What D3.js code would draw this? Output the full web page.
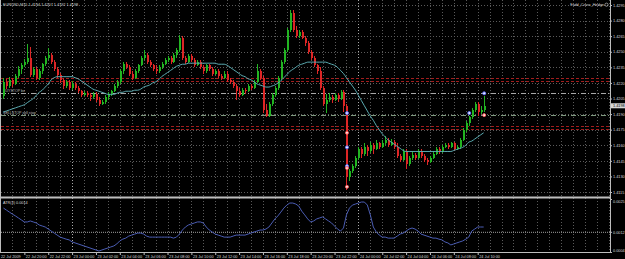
<!DOCTYPE html>
<html>
<head>
<meta charset="utf-8">
<script src="https://cdn.jsdelivr.net/npm/d3@7"></script>
<style>
  html, body { margin: 0; padding: 0; background: #000; overflow: hidden; }
  #chart { width: 625px; height: 259px; }
</style>
</head>
<body>
<div id="chart"></div>
<script>
// EURUSD M15 bars
const symbolTitle = "EURUSD,M15  1.4194 1.4207 1.4192 1.4198";
const expertName = "Fxdd_Cross_Hedge";
const atrTitle = "ATR(3) 0.0014";
const firstBar = new Date(2009, 6, 22, 18, 15);

const open = [
  1.4207,1.4221,1.4217,1.4223,1.4219,1.4227,1.4233,1.4237,1.4240,1.4244,
  1.4228,1.4233,1.4225,1.4231,1.4238,1.4244,1.4247,1.4240,1.4233,1.4228,
  1.4223,1.4217,1.4221,1.4215,1.4219,1.4215,1.4212,1.4208,1.4210,1.4208,
  1.4206,1.4209,1.4204,1.4200,1.4202,1.4206,1.4209,1.4212,1.4217,1.4221,
  1.4231,1.4238,1.4235,1.4229,1.4225,1.4231,1.4237,1.4244,1.4247,1.4240,
  1.4237,1.4233,1.4231,1.4235,1.4238,1.4242,1.4244,1.4240,1.4247,1.4252,
  1.4263,1.4244,1.4240,1.4246,1.4242,1.4237,1.4240,1.4235,1.4231,1.4237,
  1.4233,1.4229,1.4231,1.4227,1.4225,1.4229,1.4223,1.4221,1.4217,1.4212,
  1.4208,1.4213,1.4212,1.4217,1.4215,1.4221,1.4231,1.4225,1.4194,1.4188,
  1.4200,1.4208,1.4215,1.4225,1.4240,1.4252,1.4271,1.4287,1.4271,1.4265,
  1.4269,1.4263,1.4258,1.4250,1.4244,1.4237,1.4231,1.4215,1.4200,1.4204,
  1.4206,1.4204,1.4208,1.4205,1.4211,1.4198,1.4129,1.4135,1.4140,1.4148,
  1.4156,1.4152,1.4158,1.4154,1.4160,1.4156,1.4162,1.4158,1.4162,1.4165,
  1.4160,1.4163,1.4158,1.4150,1.4146,1.4154,1.4142,1.4148,1.4151,1.4148,
  1.4154,1.4150,1.4146,1.4144,1.4148,1.4152,1.4156,1.4154,1.4158,1.4160,
  1.4158,1.4162,1.4156,1.4158,1.4165,1.4175,1.4181,1.4187,1.4194,1.4200,
  1.4192,1.4194
];
const high = [
  1.4225,1.4224,1.4226,1.4225,1.4229,1.4236,1.4239,1.4243,1.4257,1.4255,
  1.4235,1.4235,1.4233,1.4239,1.4246,1.4254,1.4249,1.4242,1.4235,1.4230,
  1.4225,1.4223,1.4223,1.4222,1.4221,1.4217,1.4213,1.4212,1.4212,1.4210,
  1.4211,1.4211,1.4206,1.4204,1.4208,1.4211,1.4213,1.4219,1.4223,1.4233,
  1.4240,1.4240,1.4237,1.4231,1.4233,1.4238,1.4246,1.4252,1.4249,1.4242,
  1.4238,1.4237,1.4237,1.4240,1.4244,1.4246,1.4246,1.4249,1.4254,1.4266,
  1.4265,1.4246,1.4248,1.4248,1.4244,1.4242,1.4242,1.4237,1.4238,1.4238,
  1.4235,1.4233,1.4233,1.4229,1.4231,1.4231,1.4225,1.4223,1.4219,1.4215,
  1.4215,1.4215,1.4219,1.4219,1.4223,1.4238,1.4233,1.4227,1.4200,1.4202,
  1.4210,1.4217,1.4227,1.4242,1.4254,1.4273,1.4290,1.4290,1.4275,1.4271,
  1.4271,1.4265,1.4260,1.4252,1.4246,1.4238,1.4235,1.4217,1.4209,1.4210,
  1.4208,1.4210,1.4210,1.4213,1.4213,1.4200,1.4137,1.4142,1.4150,1.4158,
  1.4158,1.4162,1.4160,1.4163,1.4162,1.4165,1.4163,1.4165,1.4169,1.4167,
  1.4166,1.4165,1.4162,1.4152,1.4156,1.4156,1.4150,1.4154,1.4153,1.4156,
  1.4156,1.4152,1.4148,1.4150,1.4154,1.4158,1.4158,1.4160,1.4162,1.4162,
  1.4163,1.4163,1.4160,1.4167,1.4177,1.4183,1.4188,1.4196,1.4202,1.4202,
  1.4198,1.4207
];
const low = [
  1.4205,1.4214,1.4215,1.4216,1.4218,1.4225,1.4229,1.4235,1.4238,1.4226,
  1.4226,1.4223,1.4223,1.4229,1.4236,1.4242,1.4238,1.4231,1.4225,1.4220,
  1.4214,1.4215,1.4213,1.4213,1.4213,1.4210,1.4206,1.4207,1.4206,1.4203,
  1.4205,1.4202,1.4198,1.4199,1.4200,1.4204,1.4207,1.4211,1.4215,1.4219,
  1.4229,1.4233,1.4227,1.4223,1.4224,1.4230,1.4236,1.4242,1.4238,1.4235,
  1.4231,1.4229,1.4230,1.4233,1.4237,1.4240,1.4238,1.4239,1.4244,1.4250,
  1.4242,1.4238,1.4239,1.4240,1.4235,1.4236,1.4233,1.4229,1.4230,1.4231,
  1.4227,1.4228,1.4225,1.4223,1.4224,1.4221,1.4219,1.4215,1.4204,1.4206,
  1.4207,1.4209,1.4211,1.4213,1.4214,1.4220,1.4223,1.4191,1.4187,1.4187,
  1.4198,1.4206,1.4213,1.4223,1.4238,1.4250,1.4269,1.4269,1.4263,1.4263,
  1.4262,1.4256,1.4248,1.4242,1.4235,1.4229,1.4213,1.4198,1.4191,1.4202,
  1.4201,1.4203,1.4202,1.4204,1.4192,1.4117,1.4126,1.4133,1.4138,1.4146,
  1.4148,1.4150,1.4150,1.4153,1.4152,1.4155,1.4156,1.4157,1.4160,1.4158,
  1.4159,1.4156,1.4148,1.4144,1.4145,1.4137,1.4140,1.4146,1.4146,1.4147,
  1.4148,1.4144,1.4141,1.4143,1.4147,1.4151,1.4152,1.4153,1.4157,1.4156,
  1.4157,1.4154,1.4155,1.4156,1.4164,1.4173,1.4179,1.4185,1.4192,1.4188,
  1.4190,1.4192
];
const close = [
  1.4221,1.4217,1.4223,1.4219,1.4227,1.4233,1.4237,1.4240,1.4244,1.4228,
  1.4233,1.4225,1.4231,1.4238,1.4244,1.4247,1.4240,1.4233,1.4228,1.4223,
  1.4217,1.4221,1.4215,1.4219,1.4215,1.4212,1.4208,1.4210,1.4208,1.4206,
  1.4209,1.4204,1.4200,1.4202,1.4206,1.4209,1.4212,1.4217,1.4221,1.4231,
  1.4238,1.4235,1.4229,1.4225,1.4231,1.4237,1.4244,1.4247,1.4240,1.4237,
  1.4233,1.4231,1.4235,1.4238,1.4242,1.4244,1.4240,1.4247,1.4252,1.4263,
  1.4244,1.4240,1.4246,1.4242,1.4237,1.4240,1.4235,1.4231,1.4237,1.4233,
  1.4229,1.4231,1.4227,1.4225,1.4229,1.4223,1.4221,1.4217,1.4212,1.4208,
  1.4213,1.4212,1.4217,1.4215,1.4221,1.4231,1.4225,1.4194,1.4188,1.4200,
  1.4208,1.4215,1.4225,1.4240,1.4252,1.4271,1.4287,1.4271,1.4265,1.4269,
  1.4263,1.4258,1.4250,1.4244,1.4237,1.4231,1.4215,1.4200,1.4204,1.4206,
  1.4204,1.4208,1.4205,1.4211,1.4198,1.4129,1.4135,1.4140,1.4148,1.4156,
  1.4152,1.4158,1.4154,1.4160,1.4156,1.4162,1.4158,1.4162,1.4165,1.4160,
  1.4163,1.4158,1.4150,1.4146,1.4154,1.4142,1.4148,1.4151,1.4148,1.4154,
  1.4150,1.4146,1.4144,1.4148,1.4152,1.4156,1.4154,1.4158,1.4160,1.4158,
  1.4162,1.4156,1.4158,1.4165,1.4175,1.4181,1.4187,1.4194,1.4200,1.4192,
  1.4194,1.4198
];
// moving average (cyan line)
const maValues = [
  1.4192,1.4193,1.4194,1.4195,1.4196,1.4197,1.4198,1.4199,1.4201,1.4203,
  1.4205,1.4208,1.4211,1.4213,1.4216,1.4219,1.4223,1.4225,1.4226,1.4226,
  1.4226,1.4226,1.4226,1.4226,1.4225,1.4224,1.4222,1.4220,1.4218,1.4216,
  1.4214,1.4213,1.4212,1.4211,1.4210,1.4209,1.4209,1.4209,1.4210,1.4211,
  1.4211,1.4212,1.4212,1.4212,1.4213,1.4213,1.4214,1.4216,1.4217,1.4218,
  1.4220,1.4221,1.4223,1.4226,1.4228,1.4230,1.4232,1.4234,1.4236,1.4237,
  1.4238,1.4238,1.4239,1.4239,1.4239,1.4239,1.4239,1.4239,1.4239,1.4239,
  1.4239,1.4239,1.4238,1.4238,1.4238,1.4237,1.4235,1.4233,1.4231,1.4229,
  1.4227,1.4226,1.4224,1.4223,1.4221,1.4219,1.4218,1.4217,1.4216,1.4216,
  1.4217,1.4218,1.4220,1.4222,1.4225,1.4228,1.4231,1.4233,1.4235,1.4237,
  1.4238,1.4239,1.4240,1.4240,1.4240,1.4240,1.4240,1.4240,1.4240,1.4239,
  1.4238,1.4237,1.4235,1.4232,1.4229,1.4225,1.4221,1.4217,1.4213,1.4208,
  1.4203,1.4198,1.4193,1.4188,1.4184,1.4179,1.4175,1.4171,1.4168,1.4165,
  1.4163,1.4161,1.4159,1.4157,1.4155,1.4154,1.4154,1.4154,1.4154,1.4154,
  1.4154,1.4154,1.4154,1.4154,1.4154,1.4154,1.4154,1.4154,1.4154,1.4154,
  1.4154,1.4155,1.4156,1.4157,1.4158,1.4160,1.4163,1.4164,1.4166,1.4168,
  1.4170,1.4172
];
// ATR sub window (blue line)
const atrValues = [
  0.00214,0.00206,0.00198,0.00190,0.00183,0.00175,0.00167,0.00159,0.00159,0.00163,
  0.00159,0.00155,0.00147,0.00143,0.00139,0.00131,0.00123,0.00115,0.00107,0.00099,
  0.00095,0.00091,0.00088,0.00080,0.00076,0.00072,0.00068,0.00064,0.00060,0.00056,
  0.00052,0.00048,0.00044,0.00048,0.00052,0.00056,0.00060,0.00064,0.00072,0.00084,
  0.00091,0.00095,0.00103,0.00107,0.00111,0.00115,0.00115,0.00111,0.00103,0.00099,
  0.00099,0.00099,0.00099,0.00099,0.00099,0.00099,0.00099,0.00095,0.00099,0.00111,
  0.00127,0.00139,0.00147,0.00151,0.00155,0.00159,0.00159,0.00155,0.00139,0.00127,
  0.00119,0.00111,0.00107,0.00103,0.00099,0.00099,0.00099,0.00103,0.00107,0.00107,
  0.00107,0.00107,0.00111,0.00115,0.00119,0.00123,0.00127,0.00127,0.00131,0.00139,
  0.00155,0.00171,0.00183,0.00198,0.00214,0.00226,0.00234,0.00234,0.00230,0.00222,
  0.00202,0.00187,0.00171,0.00159,0.00163,0.00171,0.00175,0.00179,0.00171,0.00163,
  0.00155,0.00143,0.00131,0.00123,0.00135,0.00187,0.00214,0.00226,0.00230,0.00234,
  0.00238,0.00238,0.00226,0.00187,0.00139,0.00119,0.00107,0.00099,0.00099,0.00095,
  0.00095,0.00095,0.00103,0.00111,0.00115,0.00123,0.00131,0.00135,0.00131,0.00123,
  0.00111,0.00107,0.00103,0.00099,0.00095,0.00095,0.00091,0.00088,0.00080,0.00076,
  0.00068,0.00072,0.00076,0.00080,0.00084,0.00091,0.00099,0.00123,0.00131,0.00139,
  0.00139,0.00139
];

const priceTicks = [1.4115,1.4130,1.4145,1.4160,1.4175,1.4190,1.4205,1.4220,1.4235,1.4250,1.4265,1.4280,1.4295];
const atrTicks = [0.0025, 0.0012, 0.0004];
const atrLevel = 0.0012;
const redLevels = [1.4225, 1.4222, 1.4179, 1.4176];
const orderPrices = [1.4210, 1.4189];
const orderLabels = ["BUYSTOP bx", "SELLSTOP sell stop"];
// trade arrows: [bar index, price]
const buyMarks = [[115, 1.4191], [115, 1.4158], [115, 1.4140], [156, 1.4191], [161, 1.4210]];
const sellMarks = [[115, 1.4172], [115, 1.4138], [115, 1.4120], [161, 1.4189]];

const width = 625;
const height = 259;
const plotRight = 610;
const mainTop = 0, mainBottom = 197;
const subTop = 199, subBottom = 252;
const fontFamily = "'Liberation Sans', Arial, sans-serif";
const textColor = "#d8d8d8";

const bars = close.map((c, i) => ({
  t: d3.timeMinute.offset(firstBar, 15 * i),
  o: open[i], h: high[i], l: low[i], c: c,
  ma: maValues[i], atr: atrValues[i]
}));

const svg = d3.select("#chart")
  .append("svg")
  .attr("width", width)
  .attr("height", height)
  .attr("viewBox", [0, 0, width, height])
  .style("background", "#000")
  .style("font-family", fontFamily);

// 12px per hour -> 3px per M15 bar
const t0 = new Date(2009, 6, 22, 18, 0);
const t1 = d3.timeHour.offset(t0, 52);
const x = d3.scaleTime().domain([t0, t1]).range([0.5, 0.5 + 52 * 11.93]);
const y = d3.scaleLinear().domain([1.4115, 1.4295]).range([192, 5]);
const yAtr = d3.scaleLinear().domain([0.0004, 0.0025]).range([subBottom, subTop]);

const clip = svg.append("clipPath").attr("id", "plotclip")
  .append("rect").attr("x", 1).attr("y", 0).attr("width", plotRight - 1).attr("height", mainBottom);

// vertical grid every hour
const hours = d3.timeHour.range(t0, t1).filter(d => x(d) > 1 && x(d) < plotRight);
const grid = svg.append("g");
grid.selectAll(".vg")
  .data(hours)
  .enter()
  .append("line")
  .attr("x1", d => Math.round(x(d)) + 0.5)
  .attr("x2", d => Math.round(x(d)) + 0.5)
  .attr("y1", mainTop)
  .attr("y2", subBottom)
  .attr("stroke", d => d.getHours() === 0 ? "#a8a8a8" : "#5a5a5a")
  .attr("stroke-dasharray", "1,2");

// horizontal grid at price ticks
grid.selectAll(".hg")
  .data(priceTicks)
  .enter()
  .append("line")
  .attr("x1", 1)
  .attr("x2", plotRight)
  .attr("y1", d => Math.round(y(d)) + 0.5)
  .attr("y2", d => Math.round(y(d)) + 0.5)
  .attr("stroke", "#5a5a5a")
  .attr("stroke-dasharray", "1,2");

// red S/R lines
svg.append("g")
  .selectAll("line")
  .data(redLevels)
  .enter()
  .append("line")
  .attr("x1", 1)
  .attr("x2", plotRight)
  .attr("y1", d => Math.round(y(d)) + 0.5)
  .attr("y2", d => Math.round(y(d)) + 0.5)
  .attr("stroke", "#a11d1d")
  .attr("stroke-width", 1.2)
  .attr("stroke-dasharray", "3,2");

// pending order lines
const orderColors = ["#a8a8a8", "#7f9a7f"];
const orders = svg.append("g");
orders.selectAll("line")
  .data(orderPrices)
  .enter()
  .append("line")
  .attr("x1", 1)
  .attr("x2", plotRight)
  .attr("y1", d => Math.round(y(d)) + 0.5)
  .attr("y2", d => Math.round(y(d)) + 0.5)
  .attr("stroke", (d, i) => orderColors[i])
  .attr("stroke-dasharray", "5,2,1,2");
orders.selectAll("text")
  .data(orderPrices)
  .enter()
  .append("text")
  .attr("x", 3)
  .attr("y", d => y(d) - 1)
  .attr("fill", "#bbbbbb")
  .attr("font-size", 3.6)
  .text((d, i) => orderLabels[i]);

// candles
const candleG = svg.append("g").attr("clip-path", "url(#plotclip)");
const candle = candleG.selectAll("g")
  .data(bars)
  .enter()
  .append("g")
  .attr("shape-rendering", "crispEdges");
candle.append("line")
  .attr("x1", d => Math.round(x(d.t)) + 0.5)
  .attr("x2", d => Math.round(x(d.t)) + 0.5)
  .attr("y1", d => y(d.h))
  .attr("y2", d => y(d.l))
  .attr("stroke", d => d.c >= d.o ? "#22b422" : "#dd2626");
candle.append("rect")
  .attr("x", d => Math.round(x(d.t)) - 0.5)
  .attr("width", 2)
  .attr("y", d => y(Math.max(d.o, d.c)))
  .attr("height", d => Math.max(1, Math.abs(y(d.o) - y(d.c))))
  .attr("fill", d => d.c >= d.o ? "#22b422" : "#dd2626");

// moving average
svg.append("path")
  .datum(bars)
  .attr("fill", "none")
  .attr("stroke", "#5aaab0")
  .attr("stroke-width", 1)
  .attr("d", d3.line().x(d => x(d.t)).y(d => y(d.ma)).curve(d3.curveMonotoneX));

// trade markers
const marks = svg.append("g");
marks.selectAll(".buy")
  .data(buyMarks)
  .enter()
  .append("circle")
  .attr("cx", d => x(bars[d[0]].t) + 0.5)
  .attr("cy", d => y(d[1]))
  .attr("r", 1.5)
  .attr("fill", "#e8e8ff")
  .attr("stroke", "#5a6cff")
  .attr("stroke-width", 0.9);
marks.selectAll(".sell")
  .data(sellMarks)
  .enter()
  .append("circle")
  .attr("cx", d => x(bars[d[0]].t) + 0.5)
  .attr("cy", d => y(d[1]))
  .attr("r", 1.5)
  .attr("fill", "#ffe0e0")
  .attr("stroke", "#ff5a5a")
  .attr("stroke-width", 0.9);

// ATR window
svg.append("line")
  .attr("x1", 1).attr("x2", plotRight)
  .attr("y1", yAtr(atrLevel) + 0.5).attr("y2", yAtr(atrLevel) + 0.5)
  .attr("stroke", "#a0a0a0")
  .attr("stroke-dasharray", "1,1");
svg.append("path")
  .datum(bars)
  .attr("fill", "none")
  .attr("stroke", "#4b5db4")
  .attr("stroke-width", 1)
  .attr("d", d3.line().x(d => x(d.t)).y(d => yAtr(d.atr)));

// frames
const frame = svg.append("g").attr("stroke", "#bdbdbd").attr("fill", "none");
frame.append("line").attr("x1", 0.5).attr("x2", 0.5).attr("y1", 0).attr("y2", subBottom);
frame.append("line").attr("x1", plotRight + 0.5).attr("x2", plotRight + 0.5).attr("y1", 0).attr("y2", subBottom + 1);
frame.append("line").attr("x1", 0).attr("x2", plotRight).attr("y1", mainBottom + 0.5).attr("y2", mainBottom + 0.5).attr("stroke-width", 2);
frame.append("line").attr("x1", 0).attr("x2", plotRight).attr("y1", subBottom + 0.5).attr("y2", subBottom + 0.5);

// price axis
const priceAxis = d3.axisRight(y).tickValues(priceTicks).tickSize(2).tickFormat(d3.format(".4f"));
svg.append("g")
  .attr("transform", `translate(${plotRight},0)`)
  .call(priceAxis)
  .call(g => g.select(".domain").remove())
  .call(g => g.selectAll("line").attr("stroke", "#bdbdbd"))
  .call(g => g.selectAll("text").attr("fill", textColor).attr("font-size", 3.8).attr("x", 3).style("font-family", fontFamily));

// current price tag
const last = bars[bars.length - 1];
svg.append("rect")
  .attr("x", plotRight + 1).attr("y", y(last.c) - 2.5)
  .attr("width", 14).attr("height", 5)
  .attr("fill", "#d6d6d6");
svg.append("text")
  .attr("x", plotRight + 3).attr("y", y(last.c) + 1.4)
  .attr("fill", "#000").attr("font-size", 3.8)
  .text(d3.format(".4f")(last.c));

// ATR axis
const atrAxis = d3.axisRight(yAtr).tickValues(atrTicks).tickSize(2).tickFormat(d3.format(".4f"));
svg.append("g")
  .attr("transform", `translate(${plotRight},0)`)
  .call(atrAxis)
  .call(g => g.select(".domain").remove())
  .call(g => g.selectAll("line").attr("stroke", "#bdbdbd"))
  .call(g => g.selectAll("text").attr("fill", textColor).attr("font-size", 3.8).attr("x", 3).style("font-family", fontFamily))
  .call(g => g.selectAll(".tick").filter(d => d === 0.0025).select("text").attr("dy", "0.9em"))
  .call(g => g.selectAll(".tick").filter(d => d === 0.0004).select("text").attr("dy", "-0.1em"));

// time axis
const timeTicks = d3.timeHour.every(2).range(new Date(2009, 6, 22, 20), new Date(2009, 6, 24, 10, 1));
const timeAxis = d3.axisBottom(x).tickValues(timeTicks).tickSize(2).tickFormat(d3.timeFormat("%d %b %H:%M"));
svg.append("g")
  .attr("transform", `translate(0,${subBottom + 1})`)
  .call(timeAxis)
  .call(g => g.select(".domain").remove())
  .call(g => g.selectAll("line").attr("stroke", "#bdbdbd"))
  .call(g => g.selectAll("text").attr("fill", textColor).attr("font-size", 3.8)
    .attr("text-anchor", "start").attr("x", 1).attr("y", 2).attr("dy", "0.71em").style("font-family", fontFamily));
svg.append("text")
  .attr("x", 1).attr("y", subBottom + 3).attr("dy", "0.71em")
  .attr("fill", textColor).attr("font-size", 3.8)
  .text(d3.timeFormat("%d %b %Y")(t0));

// titles
svg.append("text")
  .attr("x", 3).attr("y", 6)
  .attr("fill", textColor).attr("font-size", 3.8)
  .text(symbolTitle);
svg.append("text")
  .attr("x", 604).attr("y", 6)
  .attr("fill", textColor).attr("font-size", 3.8)
  .attr("text-anchor", "end")
  .text(expertName);
svg.append("circle")
  .attr("cx", 606.5).attr("cy", 4.7).attr("r", 1.6)
  .attr("fill", "none").attr("stroke", textColor).attr("stroke-width", 0.6);
svg.append("text")
  .attr("x", 3).attr("y", subTop + 4.5)
  .attr("fill", textColor).attr("font-size", 3.8)
  .text(atrTitle);
</script>
</body>
</html>
